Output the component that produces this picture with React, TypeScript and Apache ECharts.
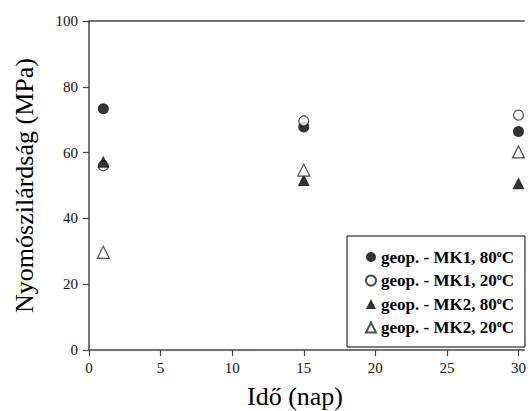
import React, { useEffect, useRef } from "react";
import * as echarts from "echarts";

const days = [1, 15, 30];
const mk1_80 = [73.3, 67.8, 66.4];
const mk1_20 = [56.0, 69.6, 71.4];
const mk2_80 = [57.2, 51.7, 50.7];
const mk2_20 = [29.7, 54.7, 60.2];
const seriesNames = [
  "geop. - MK1, 80°C",
  "geop. - MK1, 20°C",
  "geop. - MK2, 80°C",
  "geop. - MK2, 20°C",
];
const yTitle = "Nyomószilárdság (MPa)";
const xTitle = "Idő (nap)";

const FONT = "Liberation Serif";

export default function App() {
  const ref = useRef<HTMLDivElement>(null);
  useEffect(() => {
    if (!ref.current) return;
    const chart = echarts.init(ref.current, null, { renderer: "svg" });
    const toPts = (arr: number[]) => days.map((d, i) => [d, arr[i]]);
    const filled = { color: "#000" };
    const hollow = { color: "#fff", borderColor: "#222", borderWidth: 1.2 };
    const tickLabel = {
      fontFamily: FONT,
      fontSize: 15,
      fontWeight: "normal",
      color: "#111",
    };
    chart.setOption({
      animation: false,
      backgroundColor: "#fff",
      textStyle: { fontFamily: FONT },
      grid: { left: 89, top: 21, right: 0, bottom: 61, containLabel: false },
      xAxis: [
        {
          type: "value",
          min: 0,
          max: 30.4,
          interval: 5,
          splitLine: { show: false },
          axisLine: { lineStyle: { color: "#444", width: 1.5 } },
          axisTick: { length: 6, lineStyle: { color: "#444", width: 1.2 } },
          axisLabel: {
            margin: 10,
            ...tickLabel,
            showMaxLabel: false,
            formatter: (v: number) => (v % 5 === 0 ? "{t|" + v + "}" : ""),
            rich: { t: { ...tickLabel } },
          },
        },
        {
          type: "value",
          position: "top",
          min: 0,
          max: 30.4,
          interval: 5,
          splitLine: { show: false },
          axisLine: { show: true, lineStyle: { color: "#444", width: 1.5 } },
          axisTick: { show: false },
          axisLabel: { show: false },
        },
      ],
      yAxis: {
        type: "value",
        min: 0,
        max: 100,
        interval: 20,
        splitLine: { show: false },
        axisLine: { show: true, lineStyle: { color: "#444", width: 1.5 } },
        axisTick: { show: true, length: 6, lineStyle: { color: "#444", width: 1.2 } },
        axisLabel: {
          margin: 11,
          ...tickLabel,
          formatter: (v: number) => "{t|" + v + "}",
          rich: { t: { ...tickLabel } },
        },
        name: yTitle,
        nameLocation: "middle",
        nameGap: 52,
        nameTextStyle: { fontFamily: FONT, fontSize: 26, color: "#000" },
      },
      legend: {
        orient: "vertical",
        left: 347,
        top: 236,
        padding: [12, 11, 11, 18],
        itemWidth: 10,
        itemHeight: 10,
        itemGap: 6,
        itemTextGap: 9,
        borderColor: "#000",
        borderWidth: 1,
        backgroundColor: "#fff",
        data: seriesNames,
        formatter: (name: string) => {
          const m = name.match(/^(.*\d)°C$/);
          if (!m) return name;
          return `{a|${m[1]}}{s|o}{a|C}`;
        },
        textStyle: {
          fontFamily: FONT,
          fontWeight: "bold",
          fontSize: 17,
          color: "#000",
          rich: {
            a: { fontFamily: FONT, fontWeight: "bold", fontSize: 17, color: "#000" },
            s: {
              fontFamily: FONT,
              fontWeight: "bold",
              fontSize: 10,
              color: "#000",
              verticalAlign: "top",
              padding: [0, 0, 8, 0],
            },
          },
        },
      },
      graphic: [
        {
          type: "text",
          x: 295,
          y: 396,
          style: {
            text: xTitle,
            fontFamily: FONT,
            fontSize: 26,
            fill: "#000",
            align: "center",
            verticalAlign: "middle",
          },
        },
      ],
      series: [
        {
          name: seriesNames[0],
          type: "scatter",
          symbol: "circle",
          symbolSize: 11,
          itemStyle: filled,
          data: toPts(mk1_80),
        },
        {
          name: seriesNames[1],
          type: "scatter",
          symbol: "circle",
          symbolSize: 10,
          itemStyle: hollow,
          data: toPts(mk1_20),
        },
        {
          name: seriesNames[2],
          type: "scatter",
          symbol: "triangle",
          symbolSize: 12,
          itemStyle: filled,
          data: toPts(mk2_80),
        },
        {
          name: seriesNames[3],
          type: "scatter",
          symbol: "triangle",
          symbolSize: 12,
          itemStyle: hollow,
          data: toPts(mk2_20),
        },
      ],
    });
    return () => chart.dispose();
  }, []);
  return (
    <div
      ref={ref}
      style={{ position: "fixed", left: 0, top: 0, width: 529, height: 411 }}
    />
  );
}
